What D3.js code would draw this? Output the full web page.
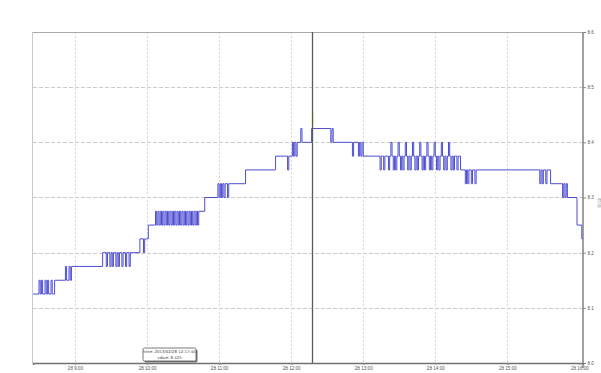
<!DOCTYPE html>
<html>
<head>
<meta charset="utf-8">
<script src="https://cdn.jsdelivr.net/npm/d3@7"></script>
<style>
  html, body { margin: 0; padding: 0; background: #fff; }
  svg { display: block; font-family: "DejaVu Sans", Arial, sans-serif; }
</style>
</head>
<body>
<svg id="chart" width="601" height="373"></svg>
<script>
// Logged readings: [clock time, value]; drawn as a step trace
const readings = [
  ["08:25", 8.125], ["08:30", 8.15], ["08:31", 8.125], ["08:32", 8.15], ["08:33", 8.125],
  ["08:35", 8.15], ["08:36", 8.125], ["08:37", 8.15], ["08:38", 8.125], ["08:40", 8.15],
  ["08:41", 8.125], ["08:43", 8.15],
  ["08:52", 8.175], ["08:53", 8.15], ["08:55", 8.175], ["08:56", 8.15], ["08:57", 8.175],
  ["09:23", 8.2], ["09:26", 8.175], ["09:27", 8.2], ["09:29", 8.175], ["09:30", 8.2],
  ["09:31", 8.175], ["09:32", 8.2], ["09:34", 8.175], ["09:35", 8.2], ["09:36", 8.175],
  ["09:37", 8.2], ["09:39", 8.175], ["09:40", 8.2], ["09:42", 8.175], ["09:43", 8.2],
  ["09:45", 8.175], ["09:46", 8.2],
  ["09:54", 8.225], ["09:57", 8.2], ["09:58", 8.225], ["10:01", 8.25],
  ["10:07", 8.275], ["10:08", 8.25], ["10:09", 8.275], ["10:10", 8.25], ["10:11", 8.275],
  ["10:12", 8.25], ["10:13", 8.275], ["10:14", 8.25], ["10:15", 8.275], ["10:16", 8.25],
  ["10:17", 8.275], ["10:18", 8.25], ["10:19", 8.275], ["10:20", 8.25], ["10:21", 8.275],
  ["10:22", 8.25], ["10:23", 8.275], ["10:24", 8.25], ["10:25", 8.275], ["10:26", 8.25],
  ["10:27", 8.275], ["10:28", 8.25], ["10:29", 8.275], ["10:30", 8.25], ["10:31", 8.275],
  ["10:32", 8.25], ["10:33", 8.275], ["10:34", 8.25], ["10:35", 8.275], ["10:36", 8.25],
  ["10:37", 8.275], ["10:38", 8.25], ["10:39", 8.275], ["10:40", 8.25], ["10:41", 8.275],
  ["10:42", 8.25], ["10:43", 8.275],
  ["10:48", 8.3], ["10:59", 8.325], ["11:00", 8.3], ["11:01", 8.325], ["11:02", 8.3],
  ["11:03", 8.325], ["11:04", 8.3], ["11:05", 8.325], ["11:07", 8.3], ["11:08", 8.325],
  ["11:22", 8.35], ["11:47", 8.375], ["11:57", 8.35], ["11:58", 8.375],
  ["12:01", 8.4], ["12:02", 8.375], ["12:03", 8.4], ["12:04", 8.375], ["12:05", 8.4],
  ["12:08", 8.425], ["12:09", 8.4], ["12:17", 8.425],
  ["12:33", 8.4], ["12:34", 8.425], ["12:35", 8.4],
  ["12:51", 8.375], ["12:52", 8.4],
  ["12:56", 8.375], ["12:57", 8.4], ["12:58", 8.375], ["12:59", 8.4], ["13:00", 8.375],
  ["13:14", 8.35], ["13:15", 8.375], ["13:17", 8.35], ["13:18", 8.375],
  ["13:21", 8.35], ["13:22", 8.375], ["13:23", 8.4], ["13:24", 8.375], ["13:25", 8.35],
  ["13:26", 8.375], ["13:27", 8.35], ["13:28", 8.375], ["13:29", 8.4], ["13:30", 8.375],
  ["13:31", 8.35], ["13:32", 8.375], ["13:33", 8.35], ["13:34", 8.375], ["13:35", 8.4],
  ["13:36", 8.375], ["13:37", 8.35], ["13:38", 8.375], ["13:39", 8.35], ["13:40", 8.375],
  ["13:41", 8.4], ["13:42", 8.375], ["13:43", 8.35], ["13:44", 8.375], ["13:45", 8.35],
  ["13:46", 8.375], ["13:47", 8.4], ["13:48", 8.375], ["13:49", 8.35], ["13:50", 8.375],
  ["13:51", 8.35], ["13:52", 8.375], ["13:53", 8.4], ["13:54", 8.375], ["13:55", 8.35],
  ["13:56", 8.375], ["13:57", 8.35], ["13:58", 8.375], ["13:59", 8.4], ["14:00", 8.375],
  ["14:01", 8.35], ["14:02", 8.375], ["14:03", 8.35], ["14:04", 8.375], ["14:05", 8.4],
  ["14:06", 8.375], ["14:07", 8.35], ["14:08", 8.375], ["14:09", 8.35], ["14:10", 8.375],
  ["14:11", 8.4], ["14:12", 8.375], ["14:13", 8.35], ["14:14", 8.375], ["14:15", 8.35],
  ["14:16", 8.375], ["14:18", 8.35], ["14:19", 8.375], ["14:21", 8.35],
  ["14:25", 8.325], ["14:26", 8.35], ["14:27", 8.325], ["14:28", 8.35], ["14:30", 8.325],
  ["14:31", 8.35], ["14:33", 8.325], ["14:34", 8.35],
  ["15:27", 8.325], ["15:28", 8.35], ["15:29", 8.325], ["15:30", 8.35], ["15:32", 8.325],
  ["15:33", 8.35], ["15:36", 8.325],
  ["15:46", 8.3], ["15:47", 8.325], ["15:48", 8.3], ["15:49", 8.325], ["15:50", 8.3],
  ["15:58", 8.25], ["16:02", 8.225], ["16:03", 8.225]
];

const timeRange = ["08:25", "16:03"];
const yTicks = [8.0, 8.1, 8.2, 8.3, 8.4, 8.5, 8.6];
const xTickTimes = ["09:00", "10:00", "11:00", "12:00", "13:00", "14:00", "15:00", "16:00"];
const xTickLabels = ["28 9:00", "28 10:00", "28 11:00", "28 12:00", "28 13:00", "28 14:00", "28 15:00", "28 16:00"];
const cursorTime = "12:17";
const cursorStamp = "2013/02/28 12:17:45";

const parse = d3.timeParse("%H:%M");
const data = readings.map(([t, v]) => ({ t: parse(t), v }));

const svg = d3.select("#chart");
const plot = { left: 33, right: 583, top: 32, bottom: 363 };

const x = d3.scaleTime()
  .domain(timeRange.map(parse))
  .range([plot.left, plot.right]);
const y = d3.scaleLinear()
  .domain([8.0, 8.6])
  .range([plot.bottom, plot.top]);

// grid
const grid = svg.append("g");
grid.selectAll("line.h")
  .data(yTicks.slice(1, -1))
  .join("line")
  .attr("x1", plot.left).attr("x2", plot.right)
  .attr("y1", d => Math.round(y(d)) + 0.5).attr("y2", d => Math.round(y(d)) + 0.5)
  .attr("stroke", "#cbcbcb").attr("stroke-dasharray", "4,2");
grid.selectAll("line.v")
  .data(xTickTimes.slice(0, -1).map(parse))
  .join("line")
  .attr("x1", d => Math.round(x(d)) + 0.5).attr("x2", d => Math.round(x(d)) + 0.5)
  .attr("y1", plot.top).attr("y2", plot.bottom)
  .attr("stroke", "#d6d6d6").attr("stroke-dasharray", "2,2");

// frame
svg.append("line").attr("x1", plot.left).attr("x2", plot.right)
  .attr("y1", plot.top + 0.5).attr("y2", plot.top + 0.5).attr("stroke", "#a8a8a8");
svg.append("line").attr("x1", plot.left - 0.5).attr("x2", plot.left - 0.5)
  .attr("y1", plot.top).attr("y2", plot.bottom).attr("stroke", "#c8c8c8");

// step trace
const line = d3.line()
  .x(d => x(d.t))
  .y(d => y(d.v))
  .curve(d3.curveStepAfter);
svg.append("path")
  .datum(data)
  .attr("d", line)
  .attr("fill", "none")
  .attr("stroke", "#4d4dd2")
  .attr("stroke-width", 1);

// cursor
const ct = parse(cursorTime);
const cx = Math.round(x(ct)) + 0.5;
svg.append("line").attr("x1", cx).attr("x2", cx)
  .attr("y1", plot.top).attr("y2", plot.bottom)
  .attr("stroke", "#5a5a5a").attr("stroke-width", 1.3);
const cursorValue = data.filter(d => d.t <= ct).slice(-1)[0].v;
svg.append("line").attr("x1", cx + 1).attr("x2", cx + 1)
  .attr("y1", y(cursorValue) - 16).attr("y2", y(cursorValue) - 4)
  .attr("stroke", "#e6dc9a").attr("stroke-width", 1);

// bottom axis
const xAxis = svg.append("g").attr("transform", `translate(0,${plot.bottom})`)
  .call(d3.axisBottom(x)
    .tickValues(xTickTimes.map(parse))
    .tickFormat((d, i) => xTickLabels[i])
    .tickSize(2).tickPadding(1.5));
xAxis.select(".domain").attr("stroke", "#707070").attr("stroke-width", 1.5);
xAxis.selectAll(".tick line").attr("stroke", "#888");
xAxis.selectAll("text").attr("font-size", 4.6).attr("fill", "#555");

// right axis
const yAxis = svg.append("g").attr("transform", `translate(${plot.right},0)`)
  .call(d3.axisRight(y)
    .tickValues(yTicks)
    .tickFormat(d3.format(".1f"))
    .tickSize(3).tickPadding(1.5));
yAxis.select(".domain").attr("stroke", "#808080").attr("stroke-width", 1.5)
  .attr("d", `M0,${plot.top}V${plot.bottom + 5}`);
yAxis.selectAll(".tick line").attr("stroke", "#888");
yAxis.selectAll("text").attr("font-size", 4.6).attr("fill", "#555");

// axis title on the right
svg.append("text")
  .attr("transform", `translate(598,${(plot.top + plot.bottom) / 2 + 5}) rotate(90)`)
  .attr("text-anchor", "middle")
  .attr("font-size", 4.5).attr("fill", "#aaa")
  .text("数值");

// readout box
const box = svg.append("g").attr("transform", "translate(143,348)");
box.append("rect").attr("x", 1.5).attr("y", 1.5).attr("width", 53).attr("height", 13)
  .attr("rx", 1.5).attr("fill", "#777");
box.append("rect").attr("x", 0).attr("y", 0).attr("width", 53).attr("height", 13)
  .attr("rx", 1.5).attr("fill", "#fff").attr("stroke", "#555").attr("stroke-width", 0.8);
box.append("text").attr("x", 26.5).attr("y", 5.3).attr("text-anchor", "middle")
  .attr("font-size", 3.9).attr("fill", "#444")
  .text("time: " + cursorStamp);
box.append("text").attr("x", 26.5).attr("y", 10.8).attr("text-anchor", "middle")
  .attr("font-size", 3.9).attr("fill", "#444")
  .text("value: " + d3.format(".3f")(cursorValue));
</script>
</body>
</html>
